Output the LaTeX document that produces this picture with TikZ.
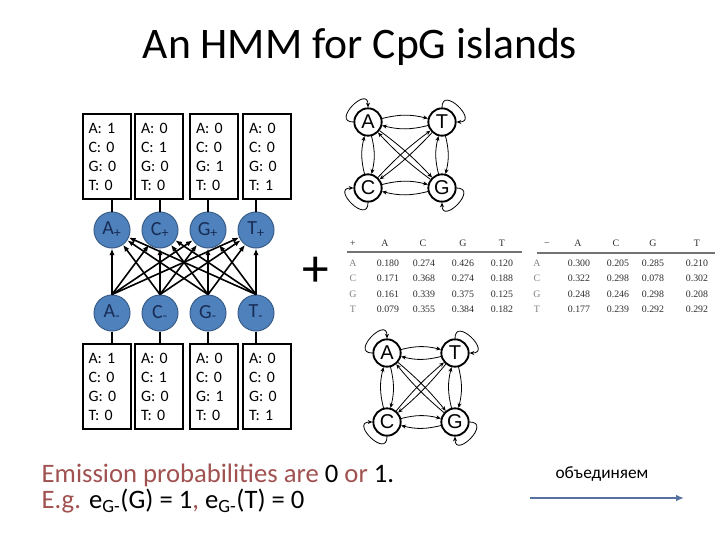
\documentclass[tikz,border=0pt]{standalone}
\usepackage{fontspec}
\setmainfont{Carlito}
\newfontfamily\tablefont{Liberation Serif}
\newfontfamily\dnafont{Liberation Sans}
\usetikzlibrary{positioning,arrows.meta,calc}

\definecolor{stateblue}{RGB}{79,129,189}
\definecolor{stateedge}{RGB}{56,93,138}
\definecolor{statetext}{RGB}{23,45,85}
\definecolor{emred}{RGB}{160,82,80}
\definecolor{mergeblue}{RGB}{84,113,160}
\definecolor{tabgray}{RGB}{45,45,45}

\tikzset{
  hmmstate/.style={circle, minimum size=27pt, inner sep=0pt, fill=stateblue, draw=stateedge,
    line width=0.75pt, text=statetext, font=\fontsize{15}{18}\selectfont},
  emitbox/.style={rectangle, draw, line width=1.5pt, text width=27pt, inner xsep=4.5pt,
    minimum height=63.75pt, align=left, font=\fontsize{11.9}{14.25}\selectfont},
  trans/.style={-{Latex[length=5pt,width=4pt]}, line width=1.2pt},
  dna/.style={circle, draw, line width=1.4pt, minimum size=20.5pt, inner sep=0pt,
    font=\dnafont\fontsize{15}{15}\selectfont},
  dnaedge/.style={-{Stealth[length=3.5pt,width=3pt]}, line width=0.6pt},
  tabcell/.style={font=\tablefont\fontsize{7.4}{8}\selectfont, text=tabgray, inner sep=0pt,
    text height=5pt, text depth=0pt},
}

\newcommand{\dnaquad}[5]{% x,y,width,height,prefix
  \begin{scope}[shift={(#1,#2)}]
    \node[dna] (#5A) at (0,0) {A};
    \node[dna] (#5T) at (#3,0) {T};
    \node[dna] (#5C) at (0,-#4) {C};
    \node[dna] (#5G) at (#3,-#4) {G};
    \foreach \u/\v in {A/T, T/A, A/C, C/A, T/G, G/T, C/G, G/C}
      \draw[dnaedge] (#5\u) to[bend left=14] (#5\v);
    \foreach \u/\v in {A/G, G/A, C/T, T/C}
      \draw[dnaedge] (#5\u) to[bend left=5] (#5\v);
    % self loops
    \draw[dnaedge] (#5A.180) .. controls +(180:17pt) and +(90:17pt) .. (#5A.90);
    \draw[dnaedge] (#5T.90) .. controls +(90:17pt) and +(0:17pt) .. (#5T.0);
    \draw[dnaedge] (#5C.270) .. controls +(270:17pt) and +(180:17pt) .. (#5C.180);
    \draw[dnaedge] (#5G.0) .. controls +(0:17pt) and +(270:17pt) .. (#5G.270);
  \end{scope}
}

\begin{document}
\begin{tikzpicture}[x=0.75pt,y=0.75pt]
\useasboundingbox (0,0) rectangle (720,-540);

\node[font=\fontsize{32.7}{39}\selectfont] (title) at (360,-47) {An HMM for CpG islands};

% emission boxes
\foreach \n/\x/\a/\c/\g/\t in {A/106.5/1/0/0/0, C/159/0/1/0/0, G/214/0/0/1/0, T/267/0/0/0/1} {
  \node[emitbox] (pbox\n) at (\x,-156.5) {A: \a\\C: \c\\G: \g\\T: \t};
  \node[emitbox] (mbox\n) at (\x,-386.5) {A: \a\\C: \c\\G: \g\\T: \t};
}

% states
\foreach \n/\x in {A/112, C/160, G/208, T/256} {
  \node[hmmstate] (p\n) at (\x,-230) {\n\textsubscript{+}};
  \node[hmmstate] (m\n) at (\x,-313) {\n\textsubscript{-}};
  \draw[line width=1.2pt] (p\n.north) -- (p\n.north |- pbox\n.south);
  \draw[line width=1.2pt] (m\n.south) -- (m\n.south |- mbox\n.north);
}

% transitions
\foreach \s in {A,C,G,T}
  \foreach \t in {A,C,G,T}
    \draw[trans] (m\s.north) -- (p\t);

\node[font=\fontsize{40}{40}\selectfont] (plus) at (316,-272) {+};

% transition tables
\node[tabcell] (ph0) at (353,-243) {+};
\node[tabcell] (mh0) at (547,-243) {−};
\foreach \c/\x/\y in {A/385/578, C/423/616, G/463/653, T/502/697} {
  \node[tabcell] (ph\c) at (\x,-243) {\c};
  \node[tabcell] (mh\c) at (\y,-243) {\c};
}
\draw[line width=1pt, black!55] (347,-252) -- (522,-252);
\draw[line width=1pt, black!55] (537,-253) -- (715,-253);
\foreach \r/\y/\a/\b/\c/\d in {A/263/0.180/0.274/0.426/0.120, C/278/0.171/0.368/0.274/0.188,
    G/294/0.161/0.339/0.375/0.125, T/309/0.079/0.355/0.384/0.182} {
  \node[tabcell, text=black!50] (pr\r) at (353,-\y) {\r};
  \node[tabcell] (p\r-1) at (388,-\y) {\a};
  \node[tabcell] (p\r-2) at (424,-\y) {\b};
  \node[tabcell] (p\r-3) at (463,-\y) {\c};
  \node[tabcell] (p\r-4) at (502,-\y) {\d};
}
\foreach \r/\y/\a/\b/\c/\d in {A/263/0.300/0.205/0.285/0.210, C/278/0.322/0.298/0.078/0.302,
    G/294/0.248/0.246/0.298/0.208, T/309/0.177/0.239/0.292/0.292} {
  \node[tabcell, text=black!50] (mr\r) at (537,-\y) {\r};
  \node[tabcell] (m\r-1) at (579,-\y) {\a};
  \node[tabcell] (m\r-2) at (618,-\y) {\b};
  \node[tabcell] (m\r-3) at (653,-\y) {\c};
  \node[tabcell] (m\r-4) at (697,-\y) {\d};
}

% the two small Markov chains
\dnaquad{368}{-122}{74}{66}{up}
\dnaquad{387}{-353}{68}{69}{lo}

% footnote text
\node[anchor=base west, text=emred, font=\fontsize{20}{24}\selectfont] (emis) at (37,-482)
  {Emission probabilities are \textcolor{black}{0} or \textcolor{black}{1.}};
\node[anchor=base west, text=emred, font=\fontsize{20}{24}\selectfont] (eg) at (37,-508)
  {E.g. \textcolor{black}{e\textsubscript{G-}(G) = 1}, \textcolor{black}{e\textsubscript{G-}(T) = 0}};

% merge arrow
\node[font=\fontsize{13}{13}\selectfont] (merge) at (602,-474) {объединяем};
\coordinate (mergestart) at (530,-498);
\coordinate (mergeend) at (684,-498);
\draw[-{Latex[length=6pt,width=5pt]}, mergeblue, line width=1.5pt] (mergestart) -- (mergeend);

\end{tikzpicture}
\end{document}
